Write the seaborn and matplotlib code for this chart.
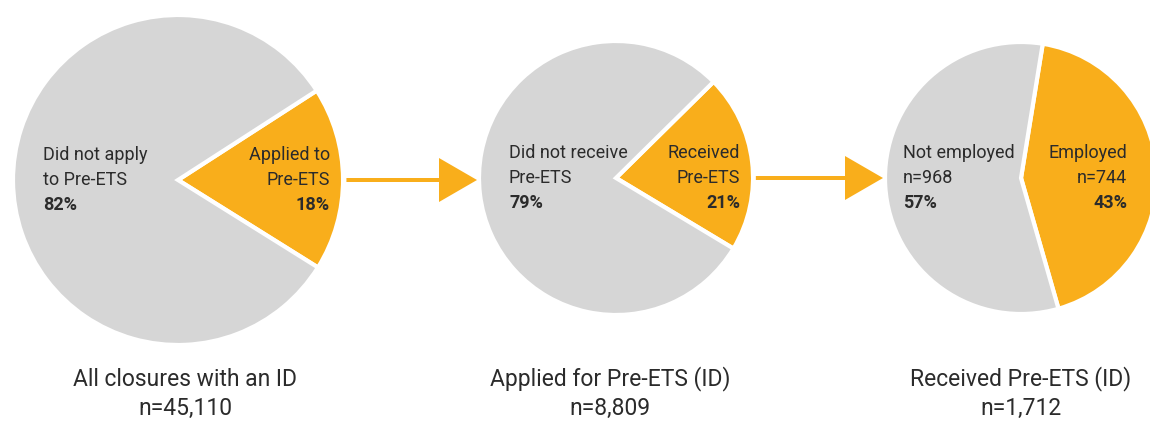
import matplotlib
matplotlib.use("Agg")
import matplotlib.pyplot as plt
import seaborn as sns
from matplotlib import font_manager

# data
stage_titles = ["All closures with an ID", "Applied for Pre-ETS (ID)", "Received Pre-ETS (ID)"]
stage_n = ["n=45,110", "n=8,809", "n=1,712"]
yes_labels = ["Applied to\nPre-ETS", "Received\nPre-ETS", "Employed\nn=744"]
no_labels = ["Did not apply\nto Pre-ETS", "Did not receive\nPre-ETS", "Not employed\nn=968"]
yes_pct = [18, 21, 43]
no_pct = [82, 79, 57]

# layout (pixels, y measured from bottom)
centers = [(178, 241), (616, 243), (1021, 243)]
radii = [165, 137, 136]
start_angles = [-32, -31, -74]
explode_yes = [0.045, 0.05, 0.03]
no_label_pad = [30, 30, 18]
yes_label_pad = [13, 13, 30]
title_x = [185, 610, 1021]

sns.set_theme(style="white")
names = {f.name for f in font_manager.fontManager.ttflist}
label_font = "Roboto" if "Roboto" in names else "DejaVu Sans"
plt.rcParams["font.family"] = [label_font, "DejaVu Sans"]

orange = "#F9AE1B"
grey = "#D6D6D6"
txt = "#2b2b2b"

fig = plt.figure(figsize=(11.5, 4.21), dpi=100)
ax = fig.add_axes([0, 0, 1, 1])

for i in range(3):
    cx, cy = centers[i]
    r = radii[i]
    ax.pie([yes_pct[i], no_pct[i]], colors=[orange, grey], startangle=start_angles[i],
           center=(cx, cy), radius=r, explode=[explode_yes[i], 0],
           wedgeprops=dict(edgecolor="white", linewidth=3))

    # labels inside the pie
    lh = 25
    ty = cy + lh
    l1, l2 = no_labels[i].split("\n")
    gx = cx - r + no_label_pad[i]
    ax.text(gx, ty, l1, ha="left", va="center", fontsize=13, color=txt)
    ax.text(gx, ty - lh, l2, ha="left", va="center", fontsize=13, color=txt)
    ax.text(gx, ty - 2 * lh, f"{no_pct[i]}%", ha="left", va="center", fontsize=13,
            color=txt, fontweight="bold")
    y1, y2 = yes_labels[i].split("\n")
    ox = cx + r - yes_label_pad[i]
    ax.text(ox, ty, y1, ha="right", va="center", fontsize=13, color=txt)
    ax.text(ox, ty - lh, y2, ha="right", va="center", fontsize=13, color=txt)
    ax.text(ox, ty - 2 * lh, f"{yes_pct[i]}%", ha="right", va="center", fontsize=13,
            color=txt, fontweight="bold")

    # titles below
    ax.text(title_x[i], 42, stage_titles[i], ha="center", va="center", fontsize=16.5, color=txt)
    ax.text(title_x[i], 13, stage_n[i], ha="center", va="center", fontsize=16.5, color=txt)

# arrows between pies
for i in range(2):
    cx, cy = centers[i]
    x0 = cx + radii[i] * (1 + explode_yes[i]) - 4
    nx = centers[i + 1][0] - radii[i + 1] - 2
    ax.arrow(x0, cy, nx - x0, 0, width=4, head_width=44, head_length=38,
             length_includes_head=True, color=orange, linewidth=0)

ax.set_xlim(0, 1150)
ax.set_ylim(0, 421)
ax.set_aspect("auto")
ax.axis("off")

fig.savefig("out.png", dpi=100, facecolor="white")
